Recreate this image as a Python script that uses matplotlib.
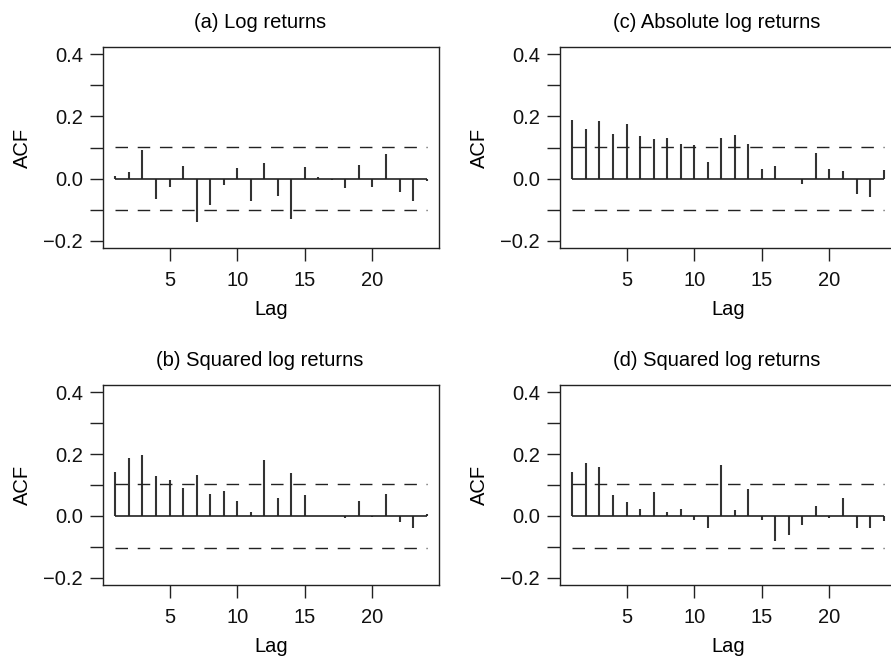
import numpy as np
import matplotlib
matplotlib.use("Agg")
import matplotlib.pyplot as plt

plt.rcParams['font.family'] = ['Liberation Sans', 'DejaVu Sans']
plt.rcParams['font.size'] = 14.5

lags = list(range(1, 25))

# sample autocorrelations
acf_log = [0.008, 0.022, 0.091, -0.067, -0.027, 0.039, -0.139, -0.086,
           -0.021, 0.035, -0.071, 0.050, -0.055, -0.130, 0.038, 0.006,
           -0.006, -0.031, 0.044, -0.026, 0.078, -0.044, -0.074, -0.008]
acf_sq = [0.143, 0.189, 0.197, 0.129, 0.115, 0.091, 0.134, 0.071,
          0.080, 0.048, 0.011, 0.182, 0.059, 0.138, 0.069, -0.002,
          -0.002, -0.008, 0.048, -0.003, 0.071, -0.019, -0.039, 0.005]
acf_abs = [0.190, 0.160, 0.186, 0.145, 0.175, 0.138, 0.126, 0.132,
           0.112, 0.108, 0.052, 0.130, 0.139, 0.110, 0.032, 0.039,
           -0.002, -0.018, 0.083, 0.030, 0.024, -0.049, -0.061, 0.026]
acf_sq2 = [0.143, 0.172, 0.158, 0.067, 0.044, 0.023, 0.078, 0.012,
           0.022, -0.015, -0.040, 0.165, 0.019, 0.087, -0.014, -0.081,
           -0.061, -0.030, 0.033, -0.006, 0.057, -0.040, -0.040, -0.016]
conf = 0.103

titles = ["(a) Log returns", "(b) Squared log returns",
          "(c) Absolute log returns", "(d) Squared log returns"]

W, H = 891, 661
fig = plt.figure(figsize=(W / 100, H / 100), dpi=100)

# axes boxes in pixels: left, top, right, bottom
boxes = [(103, 47, 439, 248), (103, 385, 439, 585),
         (560, 47, 896, 248), (560, 385, 896, 585)]
series = [acf_log, acf_sq, acf_abs, acf_sq2]

for (l, t, r, b), vals, title in zip(boxes, series, titles):
    ax = fig.add_axes([l / W, (H - b) / H, (r - l) / W, (b - t) / H])
    ax.vlines(lags, 0, vals, color='#333333', lw=1.5)
    ax.hlines(0, lags[0], lags[-1], color='#222222', lw=1.2)
    for c in (conf, -conf):
        ax.hlines(c, lags[0], lags[-1], color='#222222', lw=1.0,
                  linestyles=(0, (9, 7)))
    ax.set_xlim(0.08, 24.92)
    ax.set_ylim(-0.224, 0.424)
    ax.set_xticks([5, 10, 15, 20])
    ax.set_yticks([-0.2, -0.1, 0.0, 0.1, 0.2, 0.3, 0.4])
    ax.set_yticklabels(['\u22120.2', '', '0.0', '', '0.2', '', '0.4'])
    ax.tick_params(direction='out', length=9.5, width=1,
                   color='#222222', labelcolor='#111111')
    ax.tick_params(axis='x', pad=7)
    ax.tick_params(axis='y', pad=5)
    for s in ax.spines.values():
        s.set_linewidth(1.0)
        s.set_color('#222222')
    ax.set_xlabel('Lag', labelpad=7)
    ax.set_ylabel('ACF', labelpad=8)
    # titles sit a little left of the panel centre in the original
    ax.set_title(title, pad=14, fontsize=14.5, x=0.467)

fig.savefig('out.png', dpi=100)
